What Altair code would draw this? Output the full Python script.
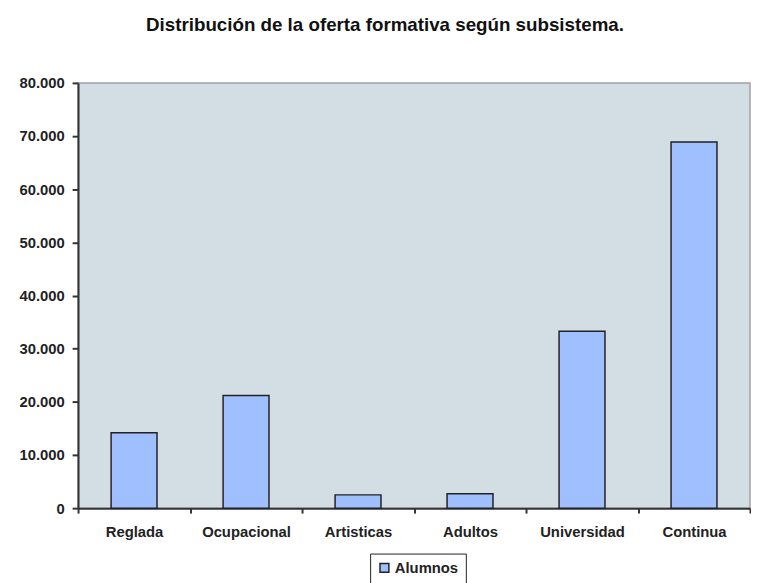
import altair as alt
import pandas as pd

categorias = ["Reglada", "Ocupacional", "Artisticas", "Adultos", "Universidad", "Continua"]
alumnos = [14200, 21200, 2500, 2700, 33300, 68900]
serie = "Alumnos"
ticks_y = [0, 10000, 20000, 30000, 40000, 50000, 60000, 70000, 80000]

df = pd.DataFrame({
    "subsistema": categorias,
    "alumnos": alumnos,
    "serie": [serie] * len(categorias),
})

FONT = "Liberation Sans"

chart = alt.Chart(
    df,
    title=alt.Title(
        "Distribución de la oferta formativa según subsistema.",
        fontSize=19, font=FONT, fontWeight="bold", frame="bounds",
        anchor="middle", offset=42, color="#111",
    ),
).mark_bar(
    width={"band": 0.41}, stroke="#222", strokeWidth=1.5
).encode(
    x=alt.X(
        "subsistema:N", sort=categorias, title=None,
        scale=alt.Scale(paddingInner=0, paddingOuter=0),
        axis=alt.Axis(
            labelAngle=0, tickBand="extent", labelFont=FONT, labelFontSize=15,
            labelFontWeight="bold", labelColor="#222", labelPadding=12,
            domainColor="#333", domainWidth=2, tickColor="#333", tickWidth=2,
            tickSize=5, grid=False,
        ),
    ),
    y=alt.Y(
        "alumnos:Q", title=None,
        scale=alt.Scale(domain=[0, 80000], nice=False),
        axis=alt.Axis(
            values=ticks_y,
            labelExpr="replace(format(datum.value, ','), ',', '.')",
            labelFont=FONT, labelFontSize=15, labelFontWeight="bold",
            labelColor="#222", labelPadding=8, domainColor="#333",
            domainWidth=2, tickColor="#333", tickWidth=2, tickSize=6,
            grid=False,
        ),
    ),
    color=alt.Color(
        "serie:N", scale=alt.Scale(range=["#A0BFFF"]),
        legend=alt.Legend(
            title=None, orient="none", legendX=296, legendY=477,
            strokeColor="#222", fillColor="white", padding=7,
            symbolType="square", symbolSize=81, symbolStrokeColor="#222",
            symbolStrokeWidth=1.5, labelFont=FONT, labelFontSize=15,
            labelFontWeight="bold", labelColor="#222", labelOffset=3,
        ),
    ),
).properties(
    width=681, height=431,
    padding={"left": 11, "top": 4, "right": 0, "bottom": 0},
).configure_view(
    fill="#D3DEE4", stroke="#9AA3A8", strokeWidth=1.5
)

chart.save("out.html", embed_options={"renderer": "svg", "actions": False})
